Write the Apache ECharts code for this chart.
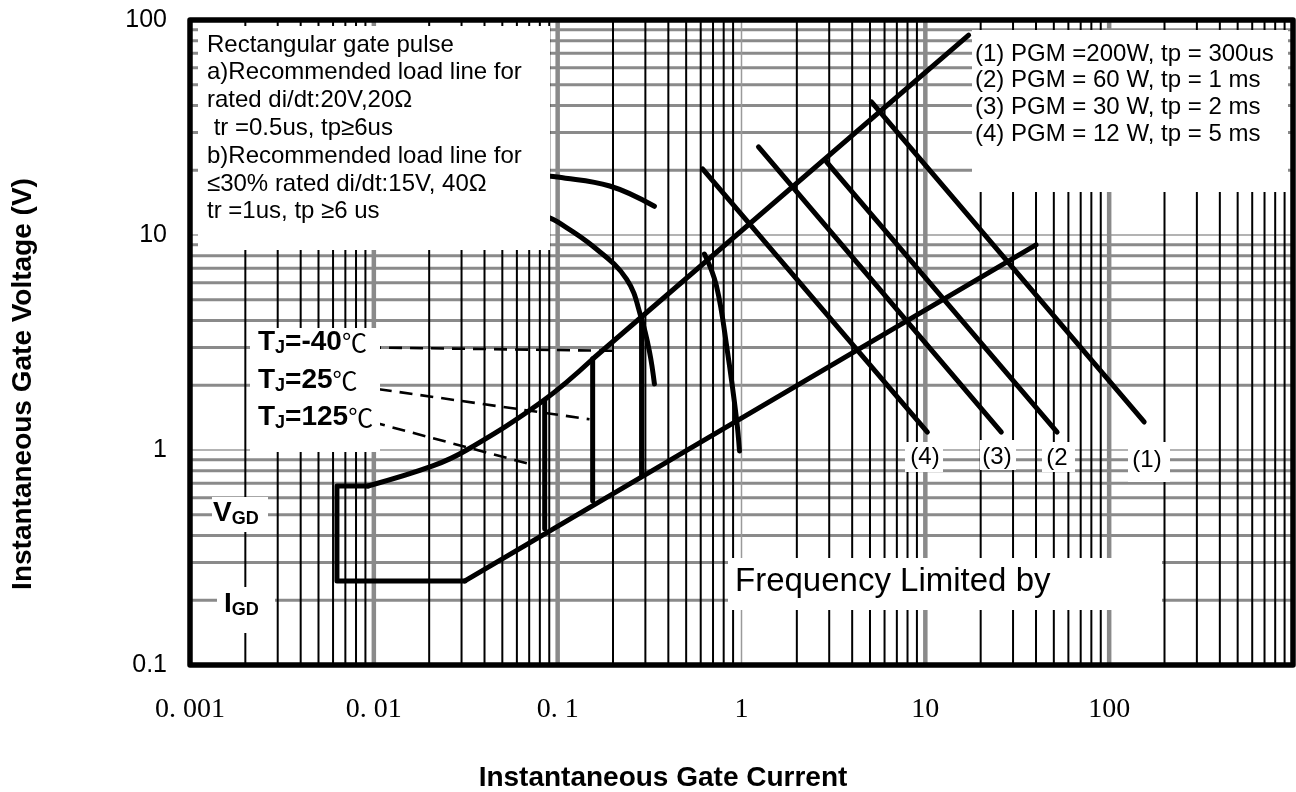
<!DOCTYPE html>
<html><head><meta charset="utf-8">
<script src="https://cdn.jsdelivr.net/npm/echarts@6/dist/echarts.min.js"></script>
<style>html,body{margin:0;padding:0;background:#fff}#c{width:1296px;height:792px}</style>
</head><body><div id="c"></div>
<script>
// ---------- axis ticks ----------
const xTicks = [0.001, 0.01, 0.1, 1, 10, 100, 1000];
const xTickLabels = ['0. 001', '0. 01', '0. 1', '1', '10', '100', ''];
const yTicks = [0.1, 1, 10, 100];
const yTickLabels = ['0.1', '1', '10', '100'];
const gridMultipliers = [2, 3, 4, 5, 6, 7, 8, 9];
const xDecadesInner = [0.01, 0.1, 10, 100];
const xUnitLine = [1];
const yDecadesInner = [1, 10];

// ---------- curves (Instantaneous Gate Current A, Voltage V) ----------
const gateRectangle = [[0.0093, 0.68], [0.0063, 0.68], [0.0063, 0.246], [0.0313, 0.246]];
const upperCurve = [[0.0093, 0.68], [0.0209, 0.843], [0.032, 1.0], [0.083, 1.69], [0.155, 2.65]];
const upperLine = [[0.155, 2.65], [17.2, 85]];
const lowerLine = [[0.0313, 0.246], [40, 9.0]];
const loadLineA = [[0.085, 0.43], [0.085, 1.69]];
const loadLineB = [[0.155, 0.58], [0.155, 2.65]];
const loadLineC = [[0.286, 0.76], [0.286, 4.1]];
const tjMinus40 = [[0.0093, 3.0], [0.217, 2.89]];
const tj25 = [[0.0082, 1.98], [0.149, 1.39]];
const tj125 = [[0.0098, 1.35], [0.0705, 0.86]];
const arc20V = [[0.0883, 18.8], [0.1, 18.6], [0.192, 16.9], [0.336, 13.6]];
const arc15V = [[0.0883, 12.1], [0.1, 11.5], [0.155, 8.89], [0.237, 6.24], [0.286, 4.07], [0.316, 2.86], [0.336, 2.03]];
const arc10V = [[0.629, 8.16], [0.731, 5.79], [0.839, 2.86], [0.940, 1.39], [0.975, 0.99]];
const pgm12W = [[0.614, 20.3], [10.26, 1.21]];
const pgm30W = [[1.237, 25.7], [25.9, 1.21]];
const pgm60W = [[2.90, 21.9], [52.1, 1.21]];
const pgm200W = [[5.09, 41.6], [155, 1.35]];

// ---------- texts ----------
const notesLines = ['Rectangular gate pulse', 'a)Recommended load line for', 'rated di/dt:20V,20\u03A9',
  ' tr =0.5us, tp\u22656us', 'b)Recommended load line for', '\u226430% rated di/dt:15V, 40\u03A9', 'tr =1us, tp \u22656 us'];
const legendLines = ['(1) PGM =200W, tp = 300us', '(2) PGM = 60 W, tp = 1 ms', '(3) PGM = 30 W, tp = 2 ms', '(4) PGM = 12 W, tp = 5 ms'];
const tjTemps = ['=-40', '=25', '=125'];
const powerLabels = ['(4)', '(3)', '(2', '(1)'];

const X_MIN = 0.001, X_MAX = 1000, Y_MIN = 0.1, Y_MAX = 100;

function labelFor(ticks, labels) {
  return function (v) {
    for (let i = 0; i < ticks.length; i++) {
      if (Math.abs(Math.log10(v) - Math.log10(ticks[i])) < 1e-6) return labels[i];
    }
    return '';
  };
}
function expand(decades) {
  const out = [];
  decades.forEach(d => gridMultipliers.forEach(m => out.push(+(d * m).toPrecision(6))));
  return out;
}
const xMinor = expand([0.001, 0.01, 0.1, 1, 10, 100]);
const yMinor = expand([0.1, 1, 10]);

function vGrid(values, color, width) {
  return {
    type: 'custom', silent: true, z: 1, animation: false,
    data: values.map(v => [v, 1]),
    renderItem: (params, api) => {
      const x = api.value(0);
      const p1 = api.coord([x, Y_MIN]), p2 = api.coord([x, Y_MAX]);
      return { type: 'line', shape: { x1: p1[0], y1: p1[1], x2: p2[0], y2: p2[1] }, style: { stroke: color, lineWidth: width } };
    }
  };
}
function hGrid(values, color, width) {
  return {
    type: 'custom', silent: true, z: 1, animation: false,
    data: values.map(v => [1, v]),
    renderItem: (params, api) => {
      const y = api.value(1);
      const p1 = api.coord([X_MIN, y]), p2 = api.coord([X_MAX, y]);
      return { type: 'line', shape: { x1: p1[0], y1: p1[1], x2: p2[0], y2: p2[1] }, style: { stroke: color, lineWidth: width } };
    }
  };
}
function curve(data, smooth, dashed) {
  return {
    type: 'line', data: data, showSymbol: false, symbol: 'none', silent: true, z: 5,
    smooth: smooth || false, animation: false,
    lineStyle: dashed ? { color: '#000', width: 2.6, type: [13, 8] } : { color: '#000', width: 5, cap: 'round', join: 'round' }
  };
}

const SANS = '"Liberation Sans", Arial, sans-serif';
const series = [
  hGrid(yMinor, '#8a8a8a', 3),
  hGrid(yDecadesInner, '#9a9a9a', 1.5),
  vGrid(xDecadesInner, '#8a8a8a', 4.5),
  vGrid(xUnitLine, '#9a9a9a', 1.5),
  vGrid(xMinor, '#000', 2),
  curve(gateRectangle), curve(upperCurve, 0.4), curve(upperLine), curve(lowerLine),
  curve(loadLineA), curve(loadLineB), curve(loadLineC),
  curve(tjMinus40, false, true), curve(tj25, false, true), curve(tj125, false, true),
  curve(arc20V, 0.4), curve(arc15V, 0.4), curve(arc10V, 0.4),
  curve(pgm12W), curve(pgm30W), curve(pgm60W), curve(pgm200W),
  {
    type: 'custom', silent: true, z: 60, animation: false, data: [[1, 1]],
    renderItem: (params) => {
      const c = params.coordSys;
      return { type: 'rect', shape: { x: c.x, y: c.y, width: c.width, height: c.height },
        style: { fill: 'none', stroke: '#000', lineWidth: 5.5, lineJoin: 'round' } };
    }
  }
];

function whiteBox(x, y, w, h) { return { type: 'rect', z: 50, shape: { x: x, y: y, width: w, height: h }, style: { fill: '#fff' } }; }
const subRich = {
  b: { fontFamily: SANS, fontWeight: 'bold', fontSize: 28, lineHeight: 30, verticalAlign: 'middle', fill: '#000' },
  s: { fontFamily: SANS, fontWeight: 'bold', fontSize: 18, lineHeight: 18, verticalAlign: 'bottom', fill: '#000' },
  c: { fontFamily: '"Noto Sans CJK SC", sans-serif', fontSize: 25, lineHeight: 30, verticalAlign: 'middle', fill: '#000' }
};

const graphic = [
  whiteBox(198, 26, 352, 224),
  { type: 'text', z: 51, x: 207, y: 45 - 13.9, style: { text: notesLines.join('\n'), font: '24px ' + SANS, lineHeight: 27.8, fill: '#000', verticalAlign: 'top' } },
  whiteBox(972, 30, 316, 162),
  { type: 'text', z: 51, x: 975, y: 54 - 13.35, style: { text: legendLines.join('\n'), font: '24px ' + SANS, lineHeight: 26.7, fill: '#000', verticalAlign: 'top' } },
  whiteBox(250, 328, 130, 124),
  { type: 'text', z: 51, x: 258, y: 342, style: { text: '{b|T}{s|J}{b|' + tjTemps[0] + '}{c|\u2103}', rich: subRich, verticalAlign: 'middle' } },
  { type: 'text', z: 51, x: 258, y: 380, style: { text: '{b|T}{s|J}{b|' + tjTemps[1] + '}{c|\u2103}', rich: subRich, verticalAlign: 'middle' } },
  { type: 'text', z: 51, x: 258, y: 417, style: { text: '{b|T}{s|J}{b|' + tjTemps[2] + '}{c|\u2103}', rich: subRich, verticalAlign: 'middle' } },
  whiteBox(212, 497, 56, 35),
  { type: 'text', z: 51, x: 213, y: 513, style: { text: '{b|V}{s|GD}', rich: subRich, verticalAlign: 'middle' } },
  whiteBox(217, 587, 58, 46),
  { type: 'text', z: 51, x: 224, y: 604, style: { text: '{b|I}{s|GD}', rich: subRich, verticalAlign: 'middle' } },
  whiteBox(728, 558, 434, 52),
  { type: 'text', z: 51, x: 735, y: 582, style: { text: 'Frequency Limited by', font: '33px ' + SANS, fill: '#000', verticalAlign: 'middle' } },
  whiteBox(905, 442, 38, 30), whiteBox(980, 440, 36, 30), whiteBox(1042, 442, 33, 30), whiteBox(1128, 442, 42, 40),
  { type: 'text', z: 51, x: 925, y: 457, style: { text: powerLabels[0], font: '24px ' + SANS, fill: '#000', align: 'center', verticalAlign: 'middle' } },
  { type: 'text', z: 51, x: 997, y: 457, style: { text: powerLabels[1], font: '24px ' + SANS, fill: '#000', align: 'center', verticalAlign: 'middle' } },
  { type: 'text', z: 51, x: 1057, y: 458, style: { text: powerLabels[2], font: '24px ' + SANS, fill: '#000', align: 'center', verticalAlign: 'middle' } },
  { type: 'text', z: 51, x: 1147, y: 460, style: { text: powerLabels[3], font: '24px ' + SANS, fill: '#000', align: 'center', verticalAlign: 'middle' } },
  { type: 'text', z: 51, x: 663, y: 778, style: { text: 'Instantaneous Gate Current', font: 'bold 28px ' + SANS, fill: '#000', align: 'center', verticalAlign: 'middle' } },
  { type: 'text', z: 51, x: 23, y: 384, rotation: Math.PI / 2, style: { text: 'Instantaneous Gate Voltage (V)', font: 'bold 28px ' + SANS, fill: '#000', align: 'center', verticalAlign: 'middle' } }
];

const chart = echarts.init(document.getElementById('c'), null, { renderer: 'canvas' });
chart.setOption({
  animation: false,
  backgroundColor: '#fff',
  grid: { left: 190, right: 3, top: 20, bottom: 127, show: false },
  xAxis: {
    type: 'log', logBase: 10, min: X_MIN, max: X_MAX,
    axisLine: { show: false }, axisTick: { show: false }, splitLine: { show: false }, minorSplitLine: { show: false },
    axisLabel: { customValues: xTicks, formatter: labelFor(xTicks, xTickLabels), margin: 31, color: '#000',
      fontFamily: '"Liberation Serif", "DejaVu Serif", serif', fontSize: 28, showMinLabel: true, showMaxLabel: true }
  },
  yAxis: {
    type: 'log', logBase: 10, min: Y_MIN, max: Y_MAX,
    axisLine: { show: false }, axisTick: { show: false }, splitLine: { show: false }, minorSplitLine: { show: false },
    axisLabel: { customValues: yTicks, formatter: labelFor(yTicks, yTickLabels), margin: 23, color: '#000',
      fontFamily: SANS, fontSize: 25, showMinLabel: true, showMaxLabel: true }
  },
  series: series,
  graphic: graphic
});
</script></body></html>
